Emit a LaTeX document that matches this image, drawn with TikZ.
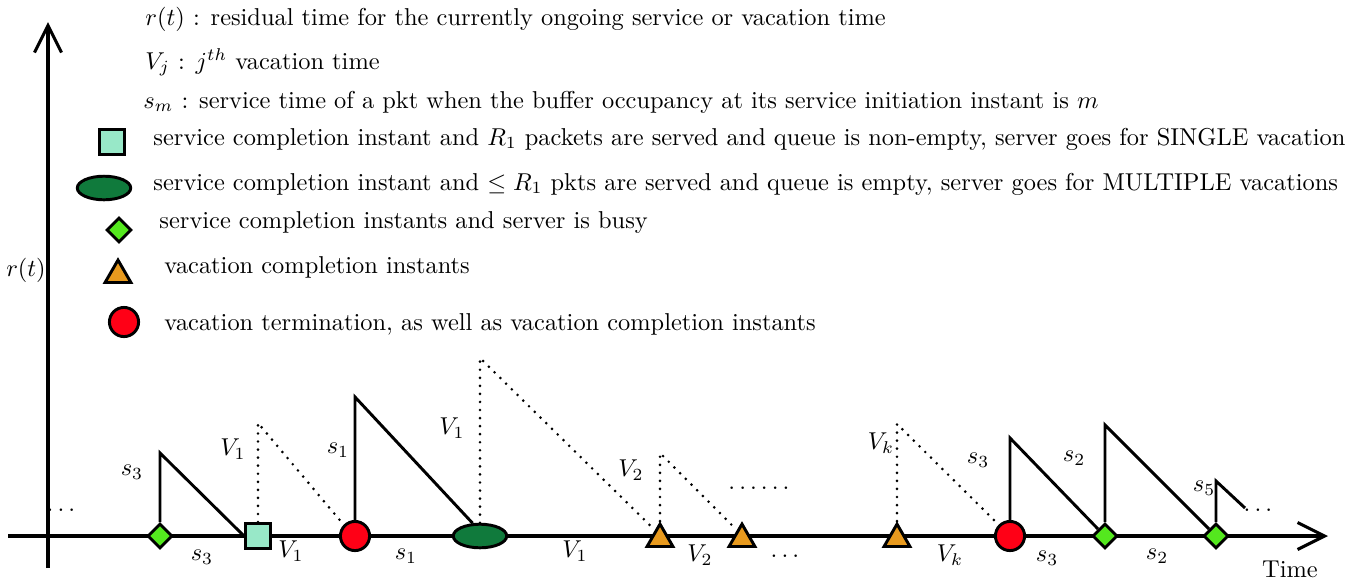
\documentclass[tikz,border=0pt]{standalone}
\usepackage{tikz}
\usetikzlibrary{shapes.geometric, arrows.meta}
\usepackage{amsmath}
\usepackage{amssymb}
\definecolor{vertEau}{RGB}{152, 232, 200}
\definecolor{vertFonce}{RGB}{16, 122, 60}
\definecolor{vertVif}{RGB}{84, 232, 30}
\definecolor{orangeVac}{RGB}{232, 154, 30}
\definecolor{rougeVac}{RGB}{255, 0, 22}

\begin{document}
\begin{tikzpicture}[x=0.0144cm, y=-0.0144cm,
  sqmark/.style={rectangle, draw, line width=1.2pt, fill=vertEau,
    minimum size=0.36cm, inner sep=0pt},
  ellmark/.style={ellipse, draw, line width=1.2pt, fill=vertFonce,
    minimum width=0.77cm, minimum height=0.34cm, inner sep=0pt},
  diamark/.style={diamond, draw, line width=1.2pt, fill=vertVif,
    minimum width=0.36cm, minimum height=0.36cm, inner sep=0pt},
  trimark/.style={regular polygon, regular polygon sides=3, draw,
    line width=1.2pt, fill=orangeVac, minimum size=0.43cm, inner sep=0pt},
  cirmark/.style={circle, draw, line width=1.2pt, fill=rougeVac,
    minimum size=0.42cm, inner sep=0pt},
  serv/.style={line width=1.2pt},
  vac/.style={line width=1.2pt, line cap=round, dash pattern=on 0pt off 3.3pt},
  axe/.style={line width=1.25pt, -{Straight Barb[length=3.9mm, width=3.9mm]}},
  legtxt/.style={anchor=base west, inner sep=0pt},
  lbl/.style={inner sep=0pt},
]
\useasboundingbox (0,0) rectangle (1364,580);

% axes
\coordinate (ox0) at (8,536);
\coordinate (ox1) at (1328,536);
\coordinate (oy0) at (48,568);
\coordinate (oy1) at (48,22);
\draw[axe] (ox0) -- (ox1);
\draw[axe] (oy0) -- (oy1);
\node[lbl] (rt)   at (26,270)  {$r(t)$};
\node[lbl] (time) at (1290,569) {Time};

% legend
\node[legtxt] (lr) at (145,25)
  {$r(t)$ : residual time for the currently ongoing service or vacation time};
\node[legtxt] (lv) at (145,69) {$V_j$ : $j^{th}$ vacation time};
\node[legtxt] (ls) at (143,108)
  {$s_m$ : service time of a pkt when the buffer occupancy at its service initiation instant is $m$};
\node[sqmark]  (lsq)  at (112,142) {};
\node[legtxt]  (tsq)  at (153,145)
  {service completion instant and $R_1$ packets are served and queue is non-empty, server goes for SINGLE vacation};
\node[ellmark] (lell) at (104,188) {};
\node[legtxt]  (tell) at (153,190)
  {service completion instant and $\le R_1$ pkts are served and queue is empty, server goes for MULTIPLE vacations};
\node[diamark] (ldia) at (119,230) {};
\node[legtxt]  (tdia) at (159,228) {service completion instants and server is busy};
\node[trimark] (ltri) at (118,275) {};
\node[legtxt]  (ttri) at (164,273) {vacation completion instants};
\node[cirmark] (lcir) at (124,322) {};
\node[legtxt]  (tcir) at (164,330)
  {vacation termination, as well as vacation completion instants};

% instants on the time axis
\node[diamark] (d1) at (160,536) {};
\node[sqmark]  (q1) at (258,536) {};
\node[cirmark] (c1) at (355,536) {};
\node[ellmark] (e1) at (480,536) {};
\node[trimark] (t1) at (660,539) {};
\node[trimark] (t2) at (742,539) {};
\node[trimark] (t3) at (897,539) {};
\node[cirmark] (c2) at (1010,536) {};
\node[diamark] (d2) at (1105,536) {};
\node[diamark] (d3) at (1216,536) {};

% peaks of r(t)
\coordinate (p1) at (160,453);
\coordinate (p2) at (258,423);
\coordinate (p3) at (355,397);
\coordinate (p4) at (480,358);
\coordinate (p5) at (660,453);
\coordinate (p6) at (897,424);
\coordinate (p7) at (1010,438);
\coordinate (p8) at (1105,425);
\coordinate (p9) at (1216,481);
\coordinate (p9e) at (1245,508);

\draw[serv] (d1.north) -- (p1) -- (q1.west);
\draw[vac]  (q1.north) -- (p2) -- (c1.north west);
\draw[serv] (c1.north) -- (p3) -- (e1.120);
\draw[vac]  (e1.north) -- (p4) -- (t1.120);
\draw[vac]  (t1.corner 1) -- (p5) -- (t2.120);
\draw[vac]  (t3.corner 1) -- (p6) -- (c2.north west);
\draw[serv] (c2.north) -- (p7) -- (d2.north west);
\draw[serv] (d2.north) -- (p8) -- (d3.north west);
\draw[serv] (d3.north) -- (p9) -- (p9e);

% labels
\node[lbl] at (132,472) {$s_3$};
\node[lbl] at (202,557) {$s_3$};
\node[lbl] at (233,449) {$V_1$};
\node[lbl] at (291,551) {$V_1$};
\node[lbl] at (338,450) {$s_1$};
\node[lbl] at (406,556) {$s_1$};
\node[lbl] at (452,428) {$V_1$};
\node[lbl] at (575,551) {$V_1$};
\node[lbl] at (631,470) {$V_2$};
\node[lbl] at (700,555) {$V_2$};
\node[lbl] at (881,443) {$V_k$};
\node[lbl] at (950,555) {$V_k$};
\node[lbl] at (978,460) {$s_3$};
\node[lbl] at (1047,558) {$s_3$};
\node[lbl] at (1074,458) {$s_2$};
\node[lbl] at (1157,556) {$s_2$};
\node[lbl] at (1204,488) {$s_5$};

% dots
\node[lbl] (dl) at (63,510)  {$\dots$};
\node[lbl] (dm) at (761,488) {$\dots\dots$};
\node[lbl] (db) at (787,556) {$\dots$};
\node[lbl] (dr) at (1260,510) {$\dots$};
\end{tikzpicture}
\end{document}
